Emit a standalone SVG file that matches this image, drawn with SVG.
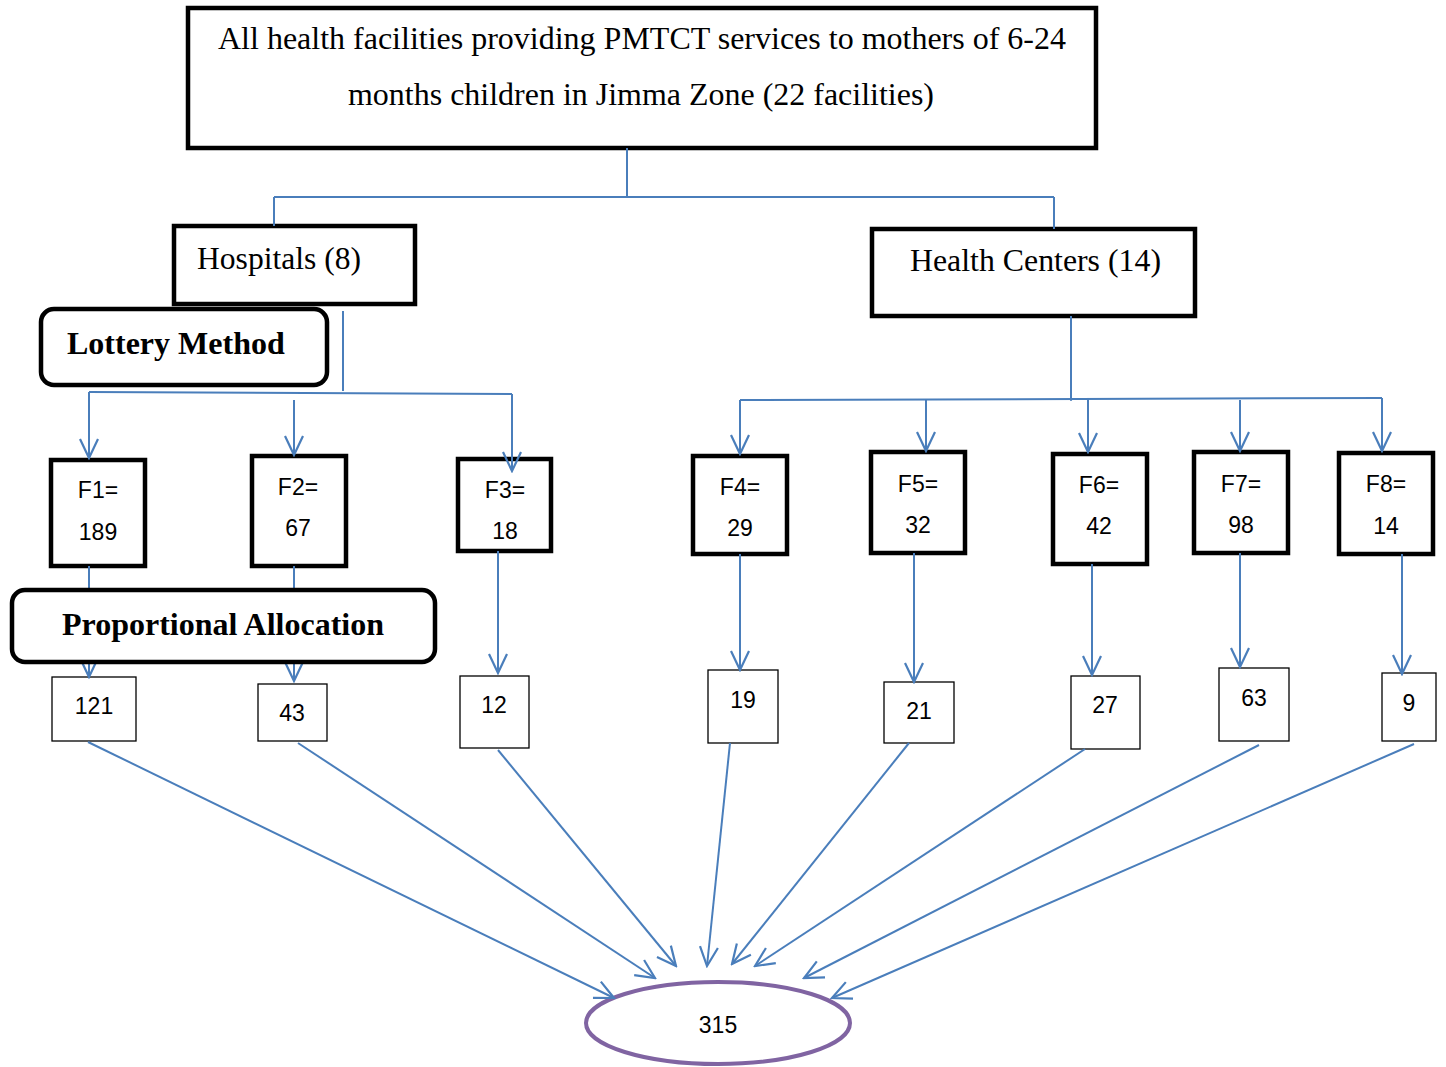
<svg xmlns="http://www.w3.org/2000/svg" width="1446" height="1067" viewBox="0 0 1446 1067">
<style>
.thick{fill:#fff;stroke:#000;stroke-width:4.5}
.thin{fill:#fff;stroke:#000;stroke-width:1.3}
.round{fill:#fff;stroke:#000;stroke-width:4.5}
.serif{font-family:"Liberation Serif","Times New Roman",serif;font-size:31px;fill:#000}
.bold{font-family:"Liberation Serif","Times New Roman",serif;font-size:32px;font-weight:bold;fill:#000}
.sans{font-family:"Liberation Sans",Arial,sans-serif;font-size:23px;fill:#000;text-anchor:middle}
.ln{fill:none;stroke:#4A7EBB;stroke-width:2}
.ar{fill:none;stroke:#4A7EBB;stroke-width:2;marker-end:url(#arr)}
</style>
<defs>
<marker id="arr" markerUnits="userSpaceOnUse" viewBox="-22 -11 24 22" markerWidth="24" markerHeight="22" refX="0" refY="0" orient="auto">
<path d="M-19,-9 L0,0 L-19,9" fill="none" stroke="#4A7EBB" stroke-width="2.2"/>
</marker>
</defs>
<rect width="1446" height="1067" fill="#fff"/>

<g id="top">
<rect class="thick" x="188" y="8" width="908" height="140"/>
<text class="serif" x="642" y="49" text-anchor="middle" textLength="848" lengthAdjust="spacingAndGlyphs" style="font-size:32px">All health facilities providing PMTCT services to mothers of 6-24</text>
<text class="serif" x="641" y="105" text-anchor="middle" textLength="586" lengthAdjust="spacingAndGlyphs" style="font-size:32px">months children in Jimma Zone (22 facilities)</text>
</g>
<g id="hospitals">
<rect class="thick" x="174" y="226" width="241" height="78"/>
<text class="serif" x="197" y="269" textLength="164" lengthAdjust="spacingAndGlyphs">Hospitals (8)</text>
</g>
<g id="healthcenters">
<rect class="thick" x="872" y="229" width="323" height="87"/>
<text class="serif" x="910" y="271" textLength="251" lengthAdjust="spacingAndGlyphs">Health Centers (14)</text>
</g>

<g id="F1"><rect class="thick" x="51" y="460" width="94" height="106"/><text class="sans" x="98" y="498">F1=</text><text class="sans" x="98" y="540">189</text></g>
<g id="F2"><rect class="thick" x="252" y="456" width="94" height="110"/><text class="sans" x="298" y="495">F2=</text><text class="sans" x="298" y="536">67</text></g>
<g id="F3"><rect class="thick" x="458" y="459" width="93" height="92"/><text class="sans" x="505" y="498">F3=</text><text class="sans" x="505" y="539">18</text></g>
<g id="F4"><rect class="thick" x="693" y="456" width="94" height="98"/><text class="sans" x="740" y="495">F4=</text><text class="sans" x="740" y="536">29</text></g>
<g id="F5"><rect class="thick" x="871" y="452" width="94" height="101"/><text class="sans" x="918" y="492">F5=</text><text class="sans" x="918" y="533">32</text></g>
<g id="F6"><rect class="thick" x="1053" y="454" width="94" height="110"/><text class="sans" x="1099" y="493">F6=</text><text class="sans" x="1099" y="534">42</text></g>
<g id="F7"><rect class="thick" x="1194" y="452" width="94" height="101"/><text class="sans" x="1241" y="492">F7=</text><text class="sans" x="1241" y="533">98</text></g>
<g id="F8"><rect class="thick" x="1339" y="453" width="94" height="101"/><text class="sans" x="1386" y="492">F8=</text><text class="sans" x="1386" y="534">14</text></g>

<g id="n121"><rect class="thin" x="52" y="677" width="84" height="64"/><text class="sans" x="94" y="714">121</text></g>
<g id="n43"><rect class="thin" x="258" y="684" width="69" height="57"/><text class="sans" x="292" y="721">43</text></g>
<g id="n12"><rect class="thin" x="460" y="676" width="69" height="72"/><text class="sans" x="494" y="713">12</text></g>
<g id="n19"><rect class="thin" x="708" y="670" width="70" height="73"/><text class="sans" x="743" y="708">19</text></g>
<g id="n21"><rect class="thin" x="884" y="682" width="70" height="61"/><text class="sans" x="919" y="719">21</text></g>
<g id="n27"><rect class="thin" x="1071" y="676" width="69" height="73"/><text class="sans" x="1105" y="713">27</text></g>
<g id="n63"><rect class="thin" x="1219" y="668" width="70" height="73"/><text class="sans" x="1254" y="706">63</text></g>
<g id="n9"><rect class="thin" x="1382" y="673" width="54" height="68"/><text class="sans" x="1409" y="711">9</text></g>

<g id="total">
<ellipse cx="718" cy="1023" rx="132" ry="41" fill="#fff" stroke="#8064A2" stroke-width="4"/>
<text class="sans" x="718" y="1033">315</text>
</g>

<g id="connectors">
<path class="ln" d="M627,148 V197 M274,197 H1054 M274,197 V226 M1054,197 V229"/>
<path class="ln" d="M343,311 V391 M89,392 L512,394"/>
<path class="ar" d="M89,392 V458"/>
<path class="ar" d="M294,400 V455"/>
<path class="ar" d="M512,394 V471"/>
<path class="ln" d="M1071,316 V401 M740,400 L1382,398"/>
<path class="ar" d="M740,400 V454"/>
<path class="ar" d="M926,400 V451"/>
<path class="ar" d="M1088,400 V452"/>
<path class="ar" d="M1240,400 V451"/>
<path class="ar" d="M1382,398 V451"/>
<path class="ar" d="M89,566 V677"/>
<path class="ar" d="M294,566 V681"/>
<path class="ar" d="M498,551 V673"/>
<path class="ar" d="M740,554 V670"/>
<path class="ar" d="M914,553 V682"/>
<path class="ar" d="M1092,564 V675"/>
<path class="ar" d="M1240,553 V667"/>
<path class="ar" d="M1402,554 V674"/>
<path class="ar" d="M88,742 L614,998"/>
<path class="ar" d="M298,743 L655,978"/>
<path class="ar" d="M498,750 L676,966"/>
<path class="ar" d="M730,743 L707,966"/>
<path class="ar" d="M909,743 L732,964"/>
<path class="ar" d="M1085,749 L755,966"/>
<path class="ar" d="M1259,745 L804,978"/>
<path class="ar" d="M1414,744 L832,998"/>
</g>

<g id="lottery">
<rect class="round" x="41" y="309" width="286" height="76" rx="13"/>
<text class="bold" x="67" y="354">Lottery Method</text>
</g>
<g id="proportional">
<rect class="round" x="12" y="590" width="423" height="72" rx="13"/>
<text class="bold" x="223" y="635" text-anchor="middle">Proportional Allocation</text>
</g>
</svg>
